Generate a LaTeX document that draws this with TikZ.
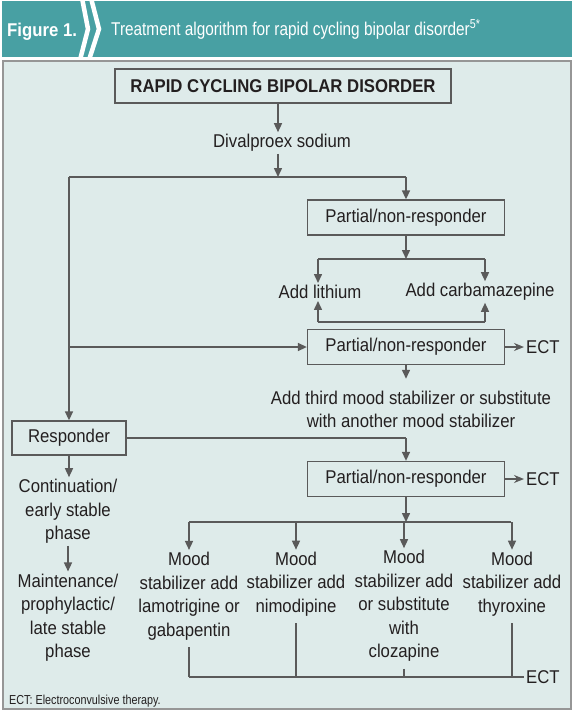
\documentclass[tikz,border=0pt]{standalone}
\usepackage{fontspec}
\setmainfont[FakeStretch=0.905]{Liberation Sans}
\newfontfamily\kapea[FakeStretch=0.83]{Liberation Sans}
\usetikzlibrary{arrows.meta}
\definecolor{otsikko}{RGB}{72,160,163}
\definecolor{pohja}{RGB}{222,235,234}
\definecolor{viiva}{RGB}{90,90,90}
\definecolor{reuna}{RGB}{150,150,150}
\definecolor{teksti}{RGB}{35,31,32}
\begin{document}
\begin{tikzpicture}[x=1pt,y=-1pt,
  txt/.style={font=\fontsize{18.5}{23.5}\selectfont,text=teksti,align=center,inner sep=2pt},
  box/.style={txt,draw=viiva,line width=1.3pt,fill=pohja,minimum width=197pt,minimum height=35pt},
  conn/.style={draw=viiva,line width=1.5pt},
  arr/.style={conn,-{Triangle[length=9pt,width=8pt]}},
  ect/.style={conn,-{Stealth[length=10pt,width=8pt]}}]
\useasboundingbox (0,0) rectangle (575,713);
\fill[white] (0,0) rectangle (575,713);
\fill[otsikko] (2,1) rectangle (572,57);
\draw[white,line width=4.5pt] (82,-2) -- (88,29) -- (80,60);
\draw[white,line width=4.5pt] (91,-2) -- (99,29) -- (89,60);
\node[anchor=base west,inner sep=0,text=white,font=\fontsize{18.5}{20}\selectfont\bfseries] (fig) at (7,36) {Figure 1.};
\node[anchor=base west,inner sep=0,text=white,font=\kapea\fontsize{18.5}{20}\selectfont] (head) at (111,35) {Treatment algorithm for rapid cycling bipolar disorder\textsuperscript{5*}};
\draw[draw=reuna,line width=2pt,fill=pohja] (3,61) rectangle (571,709);

\node[box,minimum width=336pt,minimum height=34pt,font=\fontsize{18.5}{23.5}\selectfont\bfseries] (rcbd) at (283,86) {RAPID CYCLING BIPOLAR DISORDER};
\node[txt] (dival) at (282,143) {Divalproex sodium};
\node[box] (pnr1) at (406,217.5) {Partial/non-responder};
\node[txt] (lith) at (320,292) {Add lithium};
\node[txt] (carb) at (480,292) {Add carbamazepine};
\node[box] (pnr2) at (406,347) {Partial/non-responder};
\node[txt,anchor=west] (ect1) at (524,347) {ECT};
\node[txt] (third) at (411,409.5) {Add third mood stabilizer or substitute\\with another mood stabilizer};
\node[box,minimum width=114pt,minimum height=34pt] (resp) at (69,438) {Responder};
\node[box] (pnr3) at (406,479) {Partial/non-responder};
\node[txt,anchor=west] (ect2) at (524,479) {ECT};
\node[txt] (cont) at (68,511.5) {Continuation/\\early stable\\phase};
\node[txt] (maint) at (68,617.5) {Maintenance/\\prophylactic/\\late stable\\phase};
\node[txt] (m1) at (189,596) {Mood\\stabilizer add\\lamotrigine or\\gabapentin};
\node[txt] (m2) at (296,584) {Mood\\stabilizer add\\nimodipine};
\node[txt] (m3) at (404,606) {Mood\\stabilizer add\\or substitute\\with\\clozapine};
\node[txt] (m4) at (512,584) {Mood\\stabilizer add\\thyroxine};
\node[txt,anchor=west] (ect3) at (524,677) {ECT};
\node[anchor=base west,inner sep=0,text=teksti,font=\kapea\fontsize{13}{14}\selectfont] (note) at (9,704) {ECT: Electroconvulsive therapy.};

\coordinate (j1) at (278,177);
\coordinate (l1) at (69,177);
\coordinate (r1) at (406,177);
\coordinate (l2) at (69,347);
\coordinate (j2) at (406,259);
\coordinate (j2a) at (318,259);
\coordinate (j2b) at (485,259);
\coordinate (j3a) at (318,322);
\coordinate (j3b) at (485,322);
\coordinate (j4) at (406,438);
\coordinate (j5) at (406,522);
\coordinate (j5a) at (189,522);
\coordinate (j5b) at (511,522);
\coordinate (b1) at (189,677);

\path[arr] (rcbd.south -| j1) -- (dival.north -| j1);
\path[arr] (dival.south -| j1) -- (j1);
\path[conn] (l1) -- (r1);
\path[arr] (r1) -- (pnr1.north);
\path[arr] (l1) -- (resp.north);
\path[arr] (l2) -- (pnr2.west);
\path[arr] (pnr1.south) -- (j2);
\path[conn] (j2a) -- (j2b);
\path[arr] (j2a) -- (lith.north -| j2a);
\path[arr] (j2b) -- (carb.north -| j2b);
\path[conn] (j3a) -- (j3b);
\path[arr] (j3a) -- (lith.south -| j3a);
\path[arr] (j3b) -- (carb.south -| j3b);
\path[ect] (pnr2.east) -- (ect1.west);
\path[arr,shorten >=10pt] (pnr2.south) -- (third.north -| pnr2);
\path[conn] (resp.east) -- (j4);
\path[arr] (j4) -- (pnr3.north);
\path[arr] (resp.south) -- (cont.north -| resp);
\path[arr] (cont.south) -- (maint.north);
\path[ect] (pnr3.east) -- (ect2.west);
\path[arr] (pnr3.south) -- (j5);
\path[conn] (j5a) -- (j5b);
\foreach \m in {m1,m2,m3,m4}
  \path[arr] (j5a -| \m) -- (\m.north);
\foreach \m in {m1,m2,m3,m4}
  \path[conn,shorten <=5pt] (\m.south) -- (b1 -| \m);
\path[conn] (b1) -- (ect3.west);
\end{tikzpicture}
\end{document}
